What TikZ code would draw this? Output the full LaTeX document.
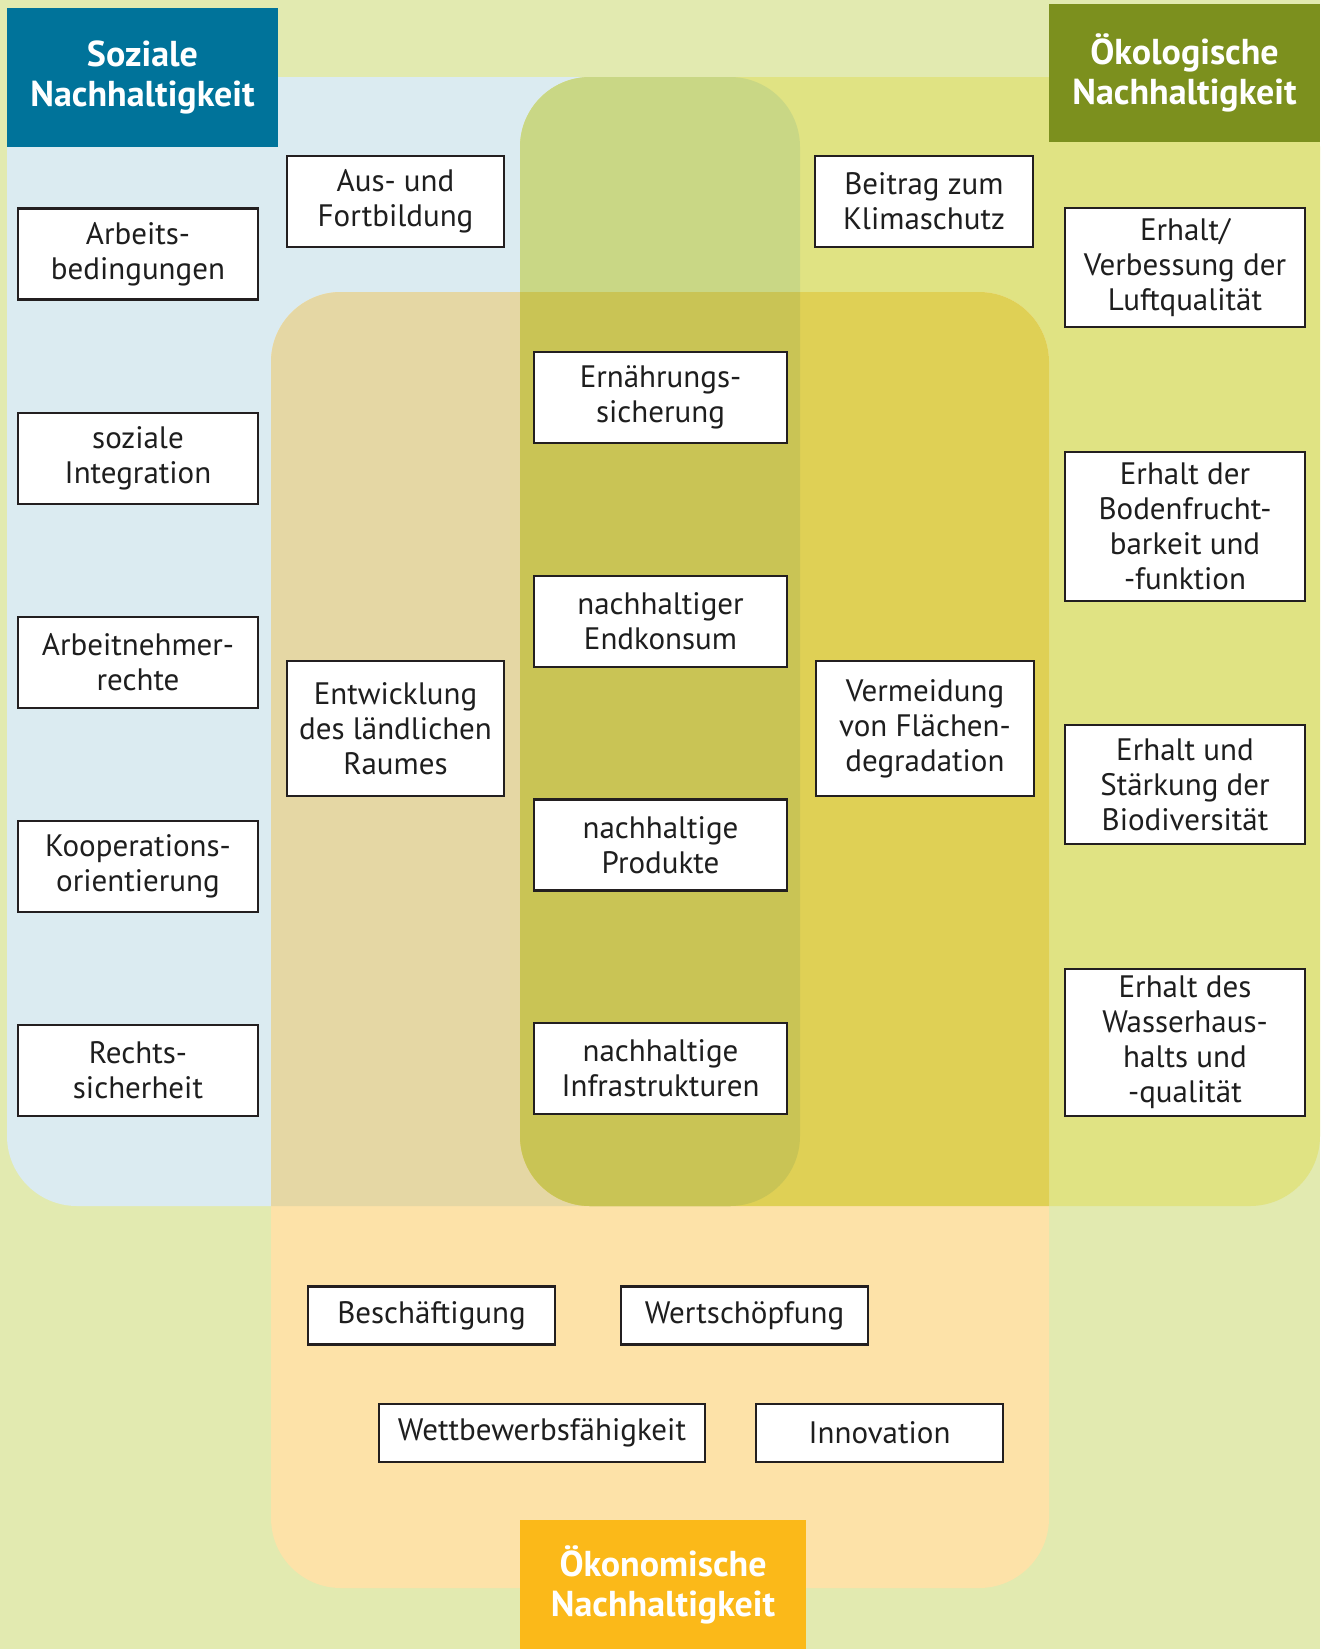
\documentclass[tikz,border=0pt]{standalone}
\usepackage{fontspec}
\setmainfont{PT Sans}
\definecolor{bg}{HTML}{E2EAB0}
\definecolor{soc}{HTML}{DBEBF1}
\definecolor{eco}{HTML}{E0E383}
\definecolor{econ}{HTML}{FDE2A8}
\definecolor{soceco}{HTML}{C9D785}
\definecolor{socecon}{HTML}{E5D7A4}
\definecolor{ecoecon}{HTML}{DFD055}
\definecolor{triple}{HTML}{C9C455}
\definecolor{hsoc}{HTML}{00739A}
\definecolor{heco}{HTML}{7C901E}
\definecolor{hecon}{HTML}{FBB919}
\definecolor{boxline}{HTML}{231F20}
\definecolor{textcol}{HTML}{1E1E1E}
\begin{document}
\begin{tikzpicture}[x=1pt,y=-1pt,
  box/.style={draw=boxline, line width=2.6pt, fill=white, align=center,
    inner sep=0pt, text=textcol, font=\fontsize{31}{35}\selectfont},
  header/.style={fill=#1, align=center, inner sep=0pt, text=white,
    font=\fontsize{36}{40}\selectfont\bfseries},
  wide/.style={minimum width=240pt},
  mid/.style={minimum width=253pt},
  narrow/.style={minimum width=217pt},
  bot/.style={minimum width=247pt, minimum height=58pt}]
\def\socpath{(7,77) rectangle (800,1206)}
\def\ecopath{(520,77) rectangle (1320,1206)}
\def\econpath{(271,292) rectangle (1049,1588)}
\useasboundingbox (0,0) rectangle (1320,1649);
\fill[bg] (0,0) rectangle (1320,1649);
\fill[soc, rounded corners=70pt] \socpath;
\fill[eco, rounded corners=70pt] \ecopath;
\fill[econ, rounded corners=70pt] \econpath;
\begin{scope}
  \clip[rounded corners=70pt] \socpath;
  \fill[soceco, rounded corners=70pt] \ecopath;
  \fill[socecon, rounded corners=70pt] \econpath;
\end{scope}
\begin{scope}
  \clip[rounded corners=70pt] \ecopath;
  \fill[ecoecon, rounded corners=70pt] \econpath;
\end{scope}
\begin{scope}
  \clip[rounded corners=70pt] \socpath;
  \clip[rounded corners=70pt] \ecopath;
  \fill[triple, rounded corners=70pt] \econpath;
\end{scope}
% headers
\node[header=hsoc, minimum width=271pt, minimum height=139pt] (hs) at (142.5,77.5) {Soziale\\Nachhaltigkeit};
\node[header=heco, minimum width=271pt, minimum height=138pt] (he) at (1184.5,73) {Ökologische\\Nachhaltigkeit};
\node[header=hecon, minimum width=286pt, minimum height=129pt] (hc) at (663,1584.5) {Ökonomische\\Nachhaltigkeit};
% left column
\node[box, wide, minimum height=91pt] (arb) at (138,254) {Arbeits-\\bedingungen};
\node[box, wide, minimum height=91pt] (soz) at (138,458.5) {soziale\\Integration};
\node[box, wide, minimum height=91pt] (anr) at (138,662.5) {Arbeitnehmer-\\rechte};
\node[box, wide, minimum height=91pt] (koop) at (138,866.5) {Kooperations-\\orientierung};
\node[box, wide, minimum height=91pt] (recht) at (138,1070.5) {Rechts-\\sicherheit};
% second column
\node[box, narrow, minimum height=91pt] (aus) at (395.5,201.5) {Aus- und\\Fortbildung};
\node[box, narrow, minimum height=135pt] (entw) at (395.5,728.5) {Entwicklung\\des ländlichen\\Raumes};
% middle column
\node[box, mid, minimum height=91pt] (ern) at (660.5,397.5) {Ernährungs-\\sicherung};
\node[box, mid, minimum height=91pt] (endk) at (660.5,621.5) {nachhaltiger\\Endkonsum};
\node[box, mid, minimum height=91pt] (prod) at (660.5,845) {nachhaltige\\Produkte};
\node[box, mid, minimum height=91pt] (infra) at (660.5,1068.5) {nachhaltige\\Infrastrukturen};
% fourth column
\node[box, minimum width=218pt, minimum height=91pt] (klima) at (924,201.5) {Beitrag zum\\Klimaschutz};
\node[box, minimum width=218pt, minimum height=135pt] (verm) at (925,728.5) {Vermeidung\\von Flächen-\\degradation};
% right column
\node[box, wide, minimum height=119pt] (luft) at (1185,267.5) {Erhalt/\\Verbessung der\\Luftqualität};
\node[box, wide, minimum height=149pt] (boden) at (1185,526.5) {Erhalt der\\Bodenfrucht-\\barkeit und\\-funktion};
\node[box, wide, minimum height=119pt] (bio) at (1185,784.5) {Erhalt und\\Stärkung der\\Biodiversität};
\node[box, wide, minimum height=147pt] (wasser) at (1185,1042.5) {Erhalt des\\Wasserhaus-\\halts und\\-qualität};
% bottom
\node[box, bot] (besch) at (431.5,1315.5) {Beschäftigung};
\node[box, bot] (wert) at (744.5,1315.5) {Wertschöpfung};
\node[box, bot, minimum width=326pt] (wett) at (542,1433) {Wettbewerbsfähigkeit};
\node[box, bot] (innov) at (879.5,1433) {Innovation};
\end{tikzpicture}
\end{document}
